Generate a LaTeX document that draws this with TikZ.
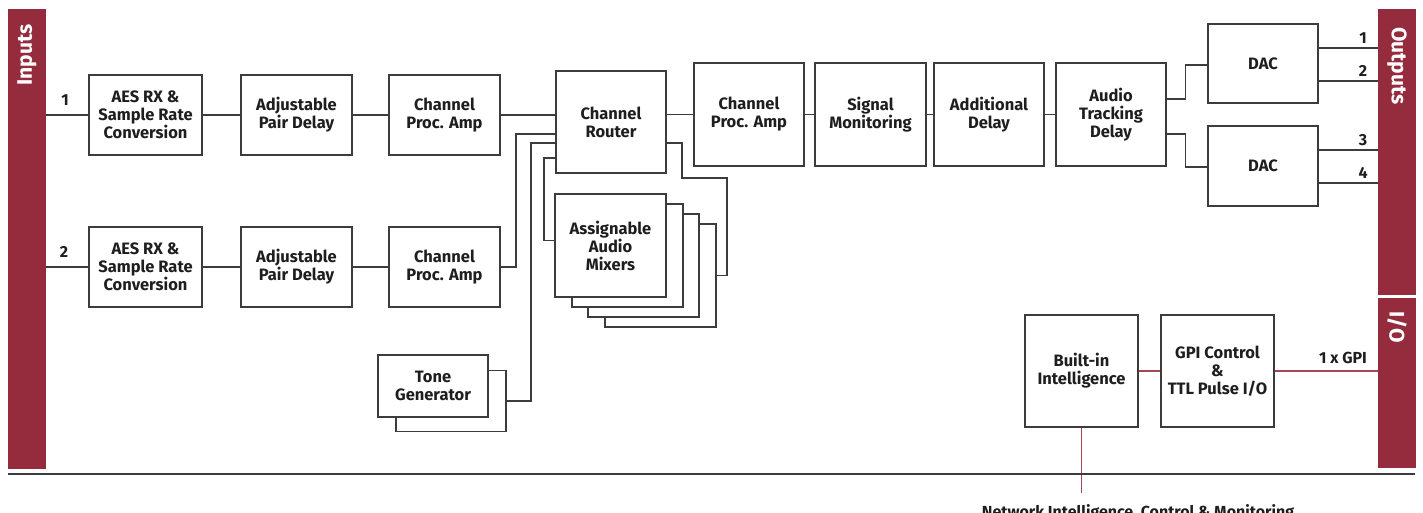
\documentclass[tikz,border=0pt]{standalone}
\usepackage{fontspec}
\setmainfont{Fira Sans}
\definecolor{barred}{RGB}{149,44,61}
\definecolor{linegray}{RGB}{60,60,60}
\definecolor{txt}{RGB}{30,30,30}
\definecolor{redline}{RGB}{165,70,85}
\begin{document}
\begin{tikzpicture}[x=1pt,y=-1pt,
 blk/.style={draw=linegray, line width=1.2pt, fill=white, align=center, font=\fontsize{16.5}{18}\selectfont\bfseries, text=txt, inner sep=0pt},
 sz/.style 2 args={minimum width=#1pt, minimum height=#2pt},
 conn/.style={draw=linegray, line width=1.2pt},
 rconn/.style={draw=redline, line width=1.2pt},
 bar/.style={fill=barred, draw=none, inner sep=0pt},
 barlabel/.style={text=white, font=\fontsize{21}{24}\selectfont\bfseries, inner sep=0pt},
 lbl/.style={text=txt, font=\fontsize{16}{18}\selectfont\bfseries, inner sep=0pt}
]
\useasboundingbox (0,0) rectangle (1423,513);
% bars
\node[bar, sz={38}{460}] (inbar) at (27,239) {};
\node[bar, sz={38}{286}] (outbar) at (1397,152) {};
\node[bar, sz={38}{170}] (iobar) at (1397,383) {};
\node[barlabel, rotate=90] (inlbl) at (27,55) {Inputs};
\node[barlabel, rotate=-90] (outlbl) at (1397,66) {Outputs};
\node[barlabel, rotate=-90] (iolbl) at (1397,327) {I/O};
% row 1
\node[blk, sz={113}{80}] (aes1) at (145.5,115) {AES RX \&\\Sample Rate\\Conversion};
\node[blk, sz={111}{80}] (apd1) at (296.5,115) {Adjustable\\Pair Delay};
\node[blk, sz={111}{80}] (cpa1) at (444.5,115) {Channel\\Proc. Amp};
% row 2
\node[blk, sz={113}{80}] (aes2) at (145.5,267) {AES RX \&\\Sample Rate\\Conversion};
\node[blk, sz={111}{80}] (apd2) at (296.5,267) {Adjustable\\Pair Delay};
\node[blk, sz={111}{80}] (cpa2) at (444.5,267) {Channel\\Proc. Amp};
% router
\node[blk, sz={110}{102}] (router) at (611,122) {Channel\\Router};
% mixers
\node[blk, sz={111}{103}] (mixc) at (660.5,275.5) {};
\node[blk, sz={111}{103}] (mixb) at (643.5,265.5) {};
\node[blk, sz={111}{103}] (mixa) at (627.5,255.5) {};
\node[blk, sz={111}{103}] (mix) at (610.5,245.5) {Assignable\\Audio\\Mixers};
% tone generator
\node[blk, sz={110}{61}] (toneb) at (451,401) {};
\node[blk, sz={110}{62}] (tone) at (433,386) {Tone\\Generator};
% chain
\node[blk, sz={110}{103}] (cpa3) at (749,114.5) {Channel\\Proc. Amp};
\node[blk, sz={111}{103}] (sig) at (870.5,114.5) {Signal\\Monitoring};
\node[blk, sz={110}{103}] (add) at (989,114.5) {Additional\\Delay};
\node[blk, sz={110}{103}] (atd) at (1111,114.5) {Audio\\Tracking\\Delay};
\node[blk, sz={110}{79}] (dac1) at (1263,63.5) {DAC};
\node[blk, sz={110}{80}] (dac2) at (1263,166) {DAC};
% bottom right
\node[blk, sz={113}{112}] (bi) at (1081.5,371) {Built-in\\Intelligence};
\node[blk, sz={113}{112}] (gpi) at (1217.5,371) {GPI Control\\\&\\TTL Pulse I/O};
% labels
\node[lbl] (l1) at (65,100) {1};
\node[lbl] (l2) at (64,252) {2};
\node[lbl] (o1) at (1363,38) {1};
\node[lbl] (o2) at (1363,71) {2};
\node[lbl] (o3) at (1363,140) {3};
\node[lbl] (o4) at (1363,173) {4};
\node[lbl] (gpil) at (1343,358) {1 x GPI};
\node[lbl, anchor=base] (net) at (1138,517) {Network Intelligence, Control \& Monitoring};
% connectors row 1/2
\draw[conn] (inbar.east |- aes1.west) -- (aes1.west);
\draw[conn] (aes1.east) -- (apd1.west);
\draw[conn] (apd1.east) -- (cpa1.west);
\draw[conn] (cpa1.east) -- (cpa1.east -| router.west);
\draw[conn] (inbar.east |- aes2.west) -- (aes2.west);
\draw[conn] (aes2.east) -- (apd2.west);
\draw[conn] (apd2.east) -- (cpa2.west);
\coordinate (t2) at (516,134);
\draw[conn] (cpa2.east) -| (t2) -- (t2 -| router.west);
\coordinate (t1) at (531,143);
\draw[conn] (toneb.east) -| (t1) -- (t1 -| router.west);
\coordinate (t3) at (544,158);
\draw[conn] (t3 -| router.west) -- (t3) |- ([yshift=5pt]mix.west);
\coordinate (t4) at (682,143);
\coordinate (t5) at (727,178);
\draw[conn] (t4 -| router.east) -- (t4) |- (t5) |- (mixc.east);
% chain
\draw[conn] (cpa3.west -| router.east) -- (cpa3.west);
\draw[conn] (cpa3.east) -- (sig.west);
\draw[conn] (sig.east) -- (add.west);
\draw[conn] (add.east) -- (atd.west);
\draw[conn] ([yshift=15.5pt]atd.east) -- ++(19,0) |- ([yshift=-1.5pt]dac1.west);
\draw[conn] ([yshift=-19.5pt]atd.east) -- ++(19,0) |- ([yshift=-1pt]dac2.west);
\draw[conn] ([yshift=15.5pt]dac1.east) -- ([yshift=15.5pt]dac1.east -| outbar.west);
\draw[conn] ([yshift=-17.5pt]dac1.east) -- ([yshift=-17.5pt]dac1.east -| outbar.west);
\draw[conn] ([yshift=16pt]dac2.east) -- ([yshift=16pt]dac2.east -| outbar.west);
\draw[conn] ([yshift=-17pt]dac2.east) -- ([yshift=-17pt]dac2.east -| outbar.west);
% red
\draw[rconn] (bi.east) -- (gpi.west);
\draw[rconn] (gpi.east) -- (gpi.east -| iobar.west);
\coordinate (nb) at (1082,493);
\draw[rconn] (bi.south) -- (bi.south |- nb);
% bottom rule
\coordinate (bl) at (8,474);
\coordinate (br) at (1415,474);
\draw[draw=linegray, line width=1.3pt] (bl) -- (br);
\end{tikzpicture}
\end{document}
